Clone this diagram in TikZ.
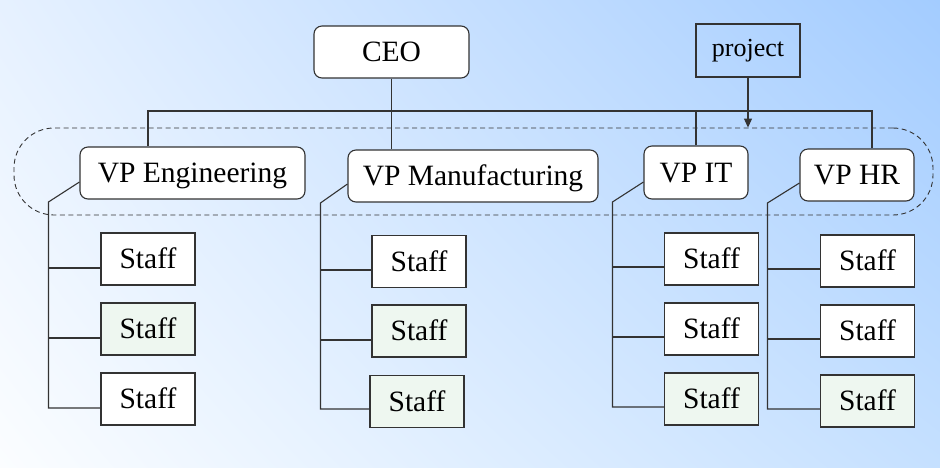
\documentclass[tikz,border=0pt]{standalone}
\usepackage{fontspec}
\setmainfont{Liberation Serif}
\usepackage{xcolor}
\usetikzlibrary{arrows.meta,shadings}
\definecolor{bgul}{HTML}{E6F1FF}
\definecolor{bgur}{HTML}{A3CCFF}
\definecolor{bgll}{HTML}{FBFDFF}
\definecolor{bglr}{HTML}{C5E0FF}
\definecolor{linegray}{HTML}{333333}
\definecolor{staffgreen}{HTML}{EEF7F0}
\begin{document}
\begin{tikzpicture}[x=1pt,y=-1pt,
  chart/.style={draw=linegray, line width=1.1pt},
  vpbox/.style={chart, fill=white, rounded corners=8pt, inner sep=0pt, minimum height=52pt, text height=19.5pt, text depth=0pt, font=\fontsize{29.5}{34}\selectfont},
  staffbox/.style={chart, fill=white, inner sep=0pt, minimum width=94pt, minimum height=52pt, text height=19.5pt, text depth=0pt, font=\fontsize{29.5}{34}\selectfont},
  greenbox/.style={staffbox, fill=staffgreen},
  teambox/.style={draw=linegray, line width=0.9pt, dash pattern=on 5pt off 3.5pt, rounded corners=40pt, inner sep=0pt},
  link/.style={chart}]
\useasboundingbox (0,0) rectangle (940,467);
\shade[upper left=bgul, upper right=bgur, lower left=bgll, lower right=bglr] (0,0) rectangle (940,467);
\node[teambox, minimum width=919pt, minimum height=87pt] (team) at (473.5,171.5) {};
\node[vpbox, minimum width=155pt] (ceo) at (391.5,52) {CEO};
\node[chart, inner sep=0pt, minimum width=104pt, minimum height=53pt, font=\fontsize{26}{30}\selectfont] (project) at (748,50.5) {project};
\node[vpbox, minimum width=225pt] (vpeng) at (192.5,173) {VP Engineering};
\node[vpbox, minimum width=250pt] (vpman) at (473,176) {VP Manufacturing};
\node[vpbox, minimum width=104pt, minimum height=53pt] (vpit) at (696,172.5) {VP IT};
\node[vpbox, minimum width=114pt] (vphr) at (857,175) {VP HR};
\node[staffbox] (s11) at (148,259) {Staff};
\node[greenbox] (s12) at (148,329) {Staff};
\node[staffbox] (s13) at (148,399) {Staff};
\node[staffbox] (s21) at (419,261.5) {Staff};
\node[greenbox] (s22) at (419,331) {Staff};
\node[greenbox] (s23) at (417,401.5) {Staff};
\node[staffbox] (s31) at (711.5,259) {Staff};
\node[staffbox] (s32) at (711.5,329) {Staff};
\node[greenbox] (s33) at (711.5,399) {Staff};
\node[staffbox] (s41) at (867.5,261) {Staff};
\node[staffbox] (s42) at (867.5,331) {Staff};
\node[greenbox] (s43) at (867.5,401) {Staff};
\coordinate (b1) at (148,111);
\coordinate (b4) at (872,111);
\draw[link] (b1 |- vpeng.north) -- (b1) -- (b4) -- (b4 |- vphr.north);
\draw[link] (ceo.south) -- (ceo.south |- vpman.north);
\draw[link] (vpit.north) -- (vpit.north |- b1);
\draw[link, -{Triangle[length=9pt,width=8pt]}] (project.south) -- (project.south |- team.north);
\draw[link] ([yshift=-9pt]vpeng.west) -- ++(-31,20) coordinate (e1) |- ([yshift=-9pt]s13.west);
\draw[link] ([yshift=-9pt]s11.west) -- ([yshift=-9pt]s11.west -| e1);
\draw[link] ([yshift=-9pt]s12.west) -- ([yshift=-9pt]s12.west -| e1);
\draw[link] ([yshift=-8pt]vpman.west) -- ++(-27,19) coordinate (e2) |- ([yshift=-7.5pt]s23.west);
\draw[link] ([yshift=-8.5pt]s21.west) -- ([yshift=-8.5pt]s21.west -| e2);
\draw[link] ([yshift=-9pt]s22.west) -- ([yshift=-9pt]s22.west -| e2);
\draw[link] ([yshift=-9.5pt]vpit.west) -- ++(-31,20) coordinate (e3) |- ([yshift=-8pt]s33.west);
\draw[link] ([yshift=-8pt]s31.west) -- ([yshift=-8pt]s31.west -| e3);
\draw[link] ([yshift=-8pt]s32.west) -- ([yshift=-8pt]s32.west -| e3);
\draw[link] ([yshift=-8pt]vphr.west) -- ++(-32,20) coordinate (e4) |- ([yshift=-8pt]s43.west);
\draw[link] ([yshift=-8pt]s41.west) -- ([yshift=-8pt]s41.west -| e4);
\draw[link] ([yshift=-8pt]s42.west) -- ([yshift=-8pt]s42.west -| e4);
\end{tikzpicture}
\end{document}
